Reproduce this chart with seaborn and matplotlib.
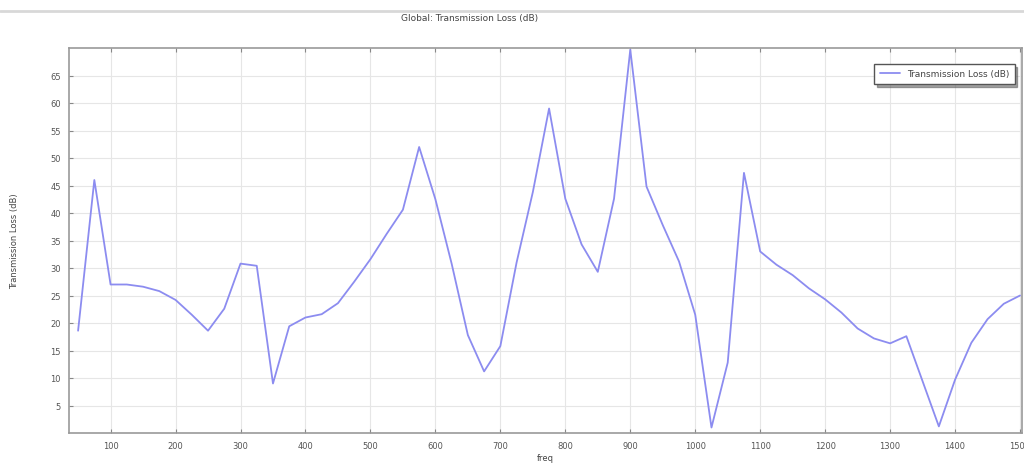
import numpy as np
import pandas as pd
import matplotlib
matplotlib.use("Agg")
import matplotlib.pyplot as plt
import seaborn as sns

freq = [50, 75, 100, 125, 150, 175, 200, 225, 250, 275, 300, 325, 350, 375, 400,
        425, 450, 475, 500, 525, 550, 575, 600, 625, 650, 675, 700, 725, 750, 775,
        800, 825, 850, 875, 900, 925, 950, 975, 1000, 1025, 1050, 1075, 1100, 1125,
        1150, 1175, 1200, 1225, 1250, 1275, 1300, 1325, 1350, 1375, 1400, 1425,
        1450, 1475, 1500]
tl = [18.6, 46.0, 27.0, 27.0, 26.6, 25.8, 24.2, 21.5, 18.6, 22.6, 30.8, 30.4,
      9.0, 19.4, 21.0, 21.6, 23.6, 27.5, 31.6, 36.2, 40.6, 52.0, 42.5, 30.8,
      17.8, 11.2, 15.8, 31.0, 43.8, 59.0, 42.6, 34.3, 29.3, 42.6, 69.7, 44.8,
      37.8, 31.2, 21.5, 1.0, 12.8, 47.3, 33.0, 30.6, 28.7, 26.3, 24.3, 21.9,
      19.0, 17.2, 16.3, 17.6, 9.4, 1.2, 9.7, 16.4, 20.7, 23.5, 25.0]

xticks = [100, 200, 300, 400, 500, 600, 700, 800, 900, 1000, 1100, 1200, 1300, 1400, 1500]
yticks = [5, 10, 15, 20, 25, 30, 35, 40, 45, 50, 55, 60, 65]

df = pd.DataFrame({"freq": freq, "tl": tl})

sns.set_style("white")
plt.rcParams['font.family'] = ['DejaVu Sans']

fig = plt.figure(figsize=(10.24, 4.64), dpi=100)
ax = fig.add_axes([69/1024, 1 - 434/464, (1022-69)/1024, (434-49)/464])

sns.lineplot(data=df, x="freq", y="tl", ax=ax, color="#8c8cf0", linewidth=1.3,
             label="Transmission Loss (dB)")

ax.set_xlim(36, 1503)
ax.set_ylim(0, 70)
ax.set_xticks(xticks)
ax.set_xticklabels([str(t) for t in xticks], fontsize=6, color="#555555")
ax.set_yticks(yticks)
ax.set_yticklabels([str(t) for t in yticks], fontsize=6, color="#555555")
ax.grid(True, color="#e6e6e6", linewidth=0.8)
ax.tick_params(axis="both", direction="in", length=3, color="#888888",
               top=True, right=False, bottom=True, left=True, pad=6)
for s in ax.spines.values():
    s.set_color("#9a9a9a")
    s.set_linewidth(1.2)

ax.set_xlabel("freq", fontsize=6, color="#444444", labelpad=2)
ax.set_ylabel("Transmission Loss (dB)", fontsize=6, color="#444444", labelpad=22)

fig.text(470/1024, 1 - 19/464, "Global: Transmission Loss (dB)", fontsize=6.5,
         color="#444444", ha="center", va="center")
fig.add_artist(plt.Line2D([0, 1], [1 - 12/464, 1 - 12/464], color="#d8d8d8", linewidth=2))

leg = ax.legend(loc="upper right", fontsize=6.5, frameon=True, fancybox=False,
                shadow=True, borderpad=0.6, handlelength=2.2,
                bbox_to_anchor=(0.997, 0.97))
leg.get_frame().set_edgecolor("#555555")
leg.get_frame().set_linewidth(1.0)
for t in leg.get_texts():
    t.set_color("#444444")

fig.savefig("out.png", dpi=100)
